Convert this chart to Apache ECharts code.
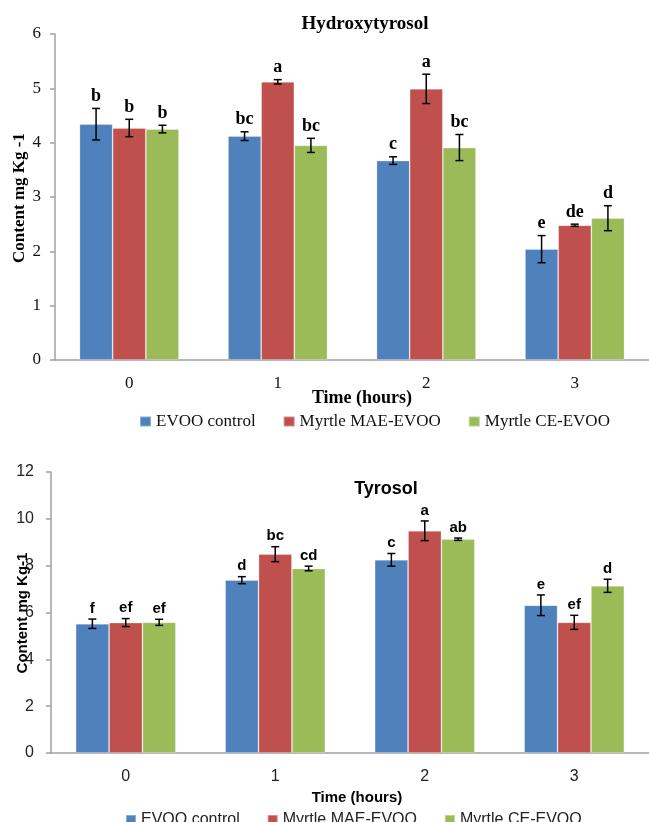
<!DOCTYPE html>
<html>
<head>
<meta charset="utf-8">
<script src="https://cdn.jsdelivr.net/npm/echarts@6/dist/echarts.min.js"></script>
<style>
html,body{margin:0;padding:0;background:#fff;}
#chart{width:649px;height:822px;}
</style>
</head>
<body>
<div id="chart"></div>
<script>
// ---- Data ----
const categories = ['0', '1', '2', '3'];
const seriesNames = ['EVOO control', 'Myrtle MAE-EVOO', 'Myrtle CE-EVOO'];

// Hydroxytyrosol (mg Kg-1)
const hydroEvoo = [4.34, 4.12, 3.67, 2.04];
const hydroMae  = [4.27, 5.12, 4.99, 2.48];
const hydroCe   = [4.25, 3.95, 3.91, 2.61];
const hydroEvooErr = [0.29, 0.08, 0.07, 0.25];
const hydroMaeErr  = [0.16, 0.04, 0.27, 0.02];
const hydroCeErr   = [0.07, 0.13, 0.24, 0.23];
const hydroEvooLetters = ['b', 'bc', 'c', 'e'];
const hydroMaeLetters  = ['b', 'a', 'a', 'de'];
const hydroCeLetters   = ['b', 'bc', 'bc', 'd'];

// Tyrosol (mg Kg-1)
const tyroEvoo = [5.52, 7.38, 8.25, 6.31];
const tyroMae  = [5.57, 8.49, 9.49, 5.58];
const tyroCe   = [5.58, 7.88, 9.13, 7.14];
const tyroEvooErr = [0.20, 0.15, 0.27, 0.44];
const tyroMaeErr  = [0.17, 0.32, 0.42, 0.30];
const tyroCeErr   = [0.13, 0.10, 0.05, 0.28];
const tyroEvooLetters = ['f', 'd', 'c', 'e'];
const tyroMaeLetters  = ['ef', 'bc', 'a', 'ef'];
const tyroCeLetters   = ['ef', 'cd', 'ab', 'd'];

// ---- Styles ----
const colors = ['#4F81BD', '#C0504D', '#9BBB59'];
const SERIF = '"Liberation Serif", "Times New Roman", serif';
const SANS = '"Liberation Sans", Arial, sans-serif';
const CAT_GAP = 0.33;

function errData(vals, errs, letters) {
  const out = [];
  vals.forEach((vs, s) => {
    vs.forEach((v, i) => out.push({ value: [i, s, v, errs[s][i]], letter: letters[s][i] }));
  });
  return out;
}

function makeRender(font, fontSize, dataArr) {
  return function (params, api) {
    const cat = api.value(0), s = api.value(1), v = api.value(2), e = api.value(3);
    const band = api.size([1, 0])[0];
    const bw = band * (1 - CAT_GAP) / 3;
    const cx = api.coord([cat, 0])[0] + (s - 1) * bw;
    const yTop = api.coord([cat, v + e])[1];
    const yBot = api.coord([cat, v - e])[1];
    const cap = 4;
    const st = { stroke: '#000', lineWidth: 1.5 };
    return {
      type: 'group',
      children: [
        { type: 'line', shape: { x1: cx, y1: yTop, x2: cx, y2: yBot }, style: st },
        { type: 'line', shape: { x1: cx - cap, y1: yTop, x2: cx + cap, y2: yTop }, style: st },
        { type: 'line', shape: { x1: cx - cap, y1: yBot, x2: cx + cap, y2: yBot }, style: st },
        { type: 'text', x: cx, y: yTop - 3,
          style: { text: dataArr[params.dataIndex].letter, font: 'bold ' + fontSize + 'px ' + font,
                   fill: '#000', textAlign: 'center', textVerticalAlign: 'bottom' } }
      ]
    };
  };
}

const hydroErr = errData([hydroEvoo, hydroMae, hydroCe], [hydroEvooErr, hydroMaeErr, hydroCeErr],
                         [hydroEvooLetters, hydroMaeLetters, hydroCeLetters]);
const tyroErr = errData([tyroEvoo, tyroMae, tyroCe], [tyroEvooErr, tyroMaeErr, tyroCeErr],
                        [tyroEvooLetters, tyroMaeLetters, tyroCeLetters]);

const axisLineStyle = { color: '#A0A0A0', width: 1.5 };

function barSeries(name, data, idx, color) {
  return {
    type: 'bar', name: name, data: data, xAxisIndex: idx, yAxisIndex: idx,
    barGap: '0%', barCategoryGap: (CAT_GAP * 100) + '%',
    itemStyle: { color: color, borderColor: 'rgba(255,255,255,0.35)', borderWidth: 0.8 },
    emphasis: { disabled: true }, z: 2
  };
}

const option = {
  animation: false,
  backgroundColor: '#fff',
  grid: [
    { left: 55, top: 34, width: 594, height: 326 },
    { left: 51, top: 472, width: 598, height: 281 }
  ],
  xAxis: [
    { type: 'category', gridIndex: 0, data: categories,
      axisLine: { lineStyle: axisLineStyle }, axisTick: { show: false },
      axisLabel: { margin: 15, color: '#111', fontFamily: SERIF, fontSize: 17 } },
    { type: 'category', gridIndex: 1, data: categories,
      axisLine: { lineStyle: axisLineStyle }, axisTick: { show: false },
      axisLabel: { margin: 16, color: '#222', fontFamily: SANS, fontSize: 16 } }
  ],
  yAxis: [
    { type: 'value', gridIndex: 0, min: 0, max: 6, interval: 1,
      axisLine: { show: true, lineStyle: axisLineStyle },
      axisTick: { show: true, length: 5, lineStyle: axisLineStyle },
      splitLine: { show: false },
      axisLabel: { margin: 14, color: '#111', fontFamily: SERIF, fontSize: 17 } },
    { type: 'value', gridIndex: 1, min: 0, max: 12, interval: 2,
      axisLine: { show: true, lineStyle: axisLineStyle },
      axisTick: { show: true, length: 5, lineStyle: axisLineStyle },
      splitLine: { show: false },
      axisLabel: { margin: 17, color: '#222', fontFamily: SANS, fontSize: 16 } }
  ],
  legend: [
    { data: seriesNames, left: 139, top: 413, padding: 0, itemWidth: 11, itemHeight: 10, itemGap: 27,
      icon: 'rect', selectedMode: false,
      textStyle: { fontFamily: SERIF, fontSize: 17, color: '#111' } },
    { data: seriesNames, left: 125, top: 812, padding: 0, itemWidth: 10, itemHeight: 10, itemGap: 27,
      icon: 'rect', selectedMode: false,
      textStyle: { fontFamily: SANS, fontSize: 16, color: '#222' } }
  ],
  graphic: [
    { type: 'text', x: 365, y: 24, style: { text: 'Hydroxytyrosol', font: 'bold 19px ' + SERIF, fill: '#000', textAlign: 'center', textVerticalAlign: 'middle' } },
    { type: 'text', x: 20, y: 198, rotation: Math.PI / 2, style: { text: 'Content mg Kg -1', font: 'bold 17px ' + SERIF, fill: '#000', textAlign: 'center', textVerticalAlign: 'middle' } },
    { type: 'text', x: 362, y: 398, style: { text: 'Time (hours)', font: 'bold 18px ' + SERIF, fill: '#000', textAlign: 'center', textVerticalAlign: 'middle' } },
    { type: 'text', x: 386, y: 489, style: { text: 'Tyrosol', font: 'bold 18px ' + SANS, fill: '#000', textAlign: 'center', textVerticalAlign: 'middle' } },
    { type: 'text', x: 23, y: 613, rotation: Math.PI / 2, z: 100, style: { text: 'Content mg Kg-1', font: 'bold 15px ' + SANS, fill: '#000', textAlign: 'center', textVerticalAlign: 'middle' } },
    { type: 'text', x: 357, y: 798, style: { text: 'Time (hours)', font: 'bold 15px ' + SANS, fill: '#000', textAlign: 'center', textVerticalAlign: 'middle' } }
  ],
  series: [
    barSeries(seriesNames[0], hydroEvoo, 0, colors[0]),
    barSeries(seriesNames[1], hydroMae, 0, colors[1]),
    barSeries(seriesNames[2], hydroCe, 0, colors[2]),
    barSeries(seriesNames[0], tyroEvoo, 1, colors[0]),
    barSeries(seriesNames[1], tyroMae, 1, colors[1]),
    barSeries(seriesNames[2], tyroCe, 1, colors[2]),
    { type: 'custom', xAxisIndex: 0, yAxisIndex: 0, data: hydroErr, z: 5,
      renderItem: makeRender(SERIF, 18, hydroErr), silent: true },
    { type: 'custom', xAxisIndex: 1, yAxisIndex: 1, data: tyroErr, z: 5,
      renderItem: makeRender(SANS, 15, tyroErr), silent: true }
  ]
};

const chart = echarts.init(document.getElementById('chart'), null, { renderer: 'canvas' });
chart.setOption(option);
</script>
</body>
</html>
